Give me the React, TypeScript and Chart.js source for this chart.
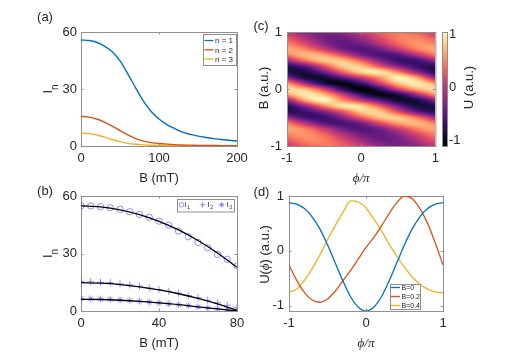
import React, { useEffect, useRef } from "react";
import { Chart, registerables } from "chart.js";
Chart.register(...registerables);

const SANS = '"Liberation Sans", Arial, Helvetica, sans-serif';
const SERIF = '"Liberation Serif", "DejaVu Serif", "Times New Roman", serif';
const TEXT = "#262626";
const AXIS = "#8f8f8f";
const BLUE = "#0072BD";
const RED = "#D95319";
const YEL = "#EDB120";
const MARK = "rgba(70,70,255,0.6)";

// ---------- (a) ----------
const A_B = [0, 10, 20, 30, 40, 50, 60, 70, 80, 90, 100, 110, 120, 130, 140, 150, 160, 170, 180, 190, 200];
const A_N1 = [55.8, 55.5, 54.6, 52.6, 49.6, 44.8, 38.0, 30.6, 23.6, 18.2, 14.2, 11.3, 9.2, 7.3, 6.1, 5.2, 4.5, 3.9, 3.4, 3.0, 2.6];
const A_N2 = [15.6, 15.2, 14.2, 12.6, 10.5, 8.1, 5.8, 3.9, 2.6, 1.8, 1.3, 1.0, 0.75, 0.55, 0.45, 0.35, 0.3, 0.25, 0.2, 0.2, 0.15];
const A_N3 = [6.8, 6.5, 5.8, 4.7, 3.4, 2.3, 1.4, 0.9, 0.6, 0.4, 0.3, 0.22, 0.16, 0.12, 0.1, 0.08, 0.06, 0.05, 0.05, 0.04, 0.04];
const A_LABELS = ["n = 1", "n = 2", "n = 3"];
const A_XTICKS = [0, 100, 200];
const A_YTICKS = [0, 30, 60];

// ---------- (b) ----------
const B_MEAS_B = [0, 5, 10, 15, 20, 25, 30, 35, 40, 45, 50, 55, 60, 65, 70, 75, 80];
const B_I1 = [54.9, 54.8, 54.4, 53.9, 53.0, 51.8, 50.4, 48.9, 46.9, 44.8, 41.7, 38.7, 35.8, 33.0, 29.5, 27.0, 23.5];
const B_I2 = [15.5, 15.3, 15.0, 14.8, 14.2, 13.6, 12.9, 12.0, 11.2, 10.3, 9.3, 8.0, 7.0, 5.6, 4.3, 3.0, 2.0];
const B_I3 = [6.5, 6.4, 6.3, 6.1, 5.8, 5.5, 5.1, 4.7, 4.3, 3.8, 3.3, 2.8, 2.2, 1.6, 1.1, 0.6, 0.3];
const B_FIT_B = [0, 10, 20, 30, 40, 50, 60, 70, 80];
const B_FIT1 = [54.8, 54.3, 52.8, 50.3, 46.8, 42.3, 36.8, 30.3, 22.8];
const B_FIT2 = [14.8, 14.5, 13.8, 12.6, 11.0, 9.0, 6.6, 3.7, 0.3];
const B_FIT3 = [6.1, 6.0, 5.6, 5.0, 4.2, 3.3, 2.2, 1.1, 0.0];
const B_LABELS = ["I_1", "I_2", "I_3"];
const B_XTICKS = [0, 40, 80];
const B_YTICKS = [0, 30, 60];

// ---------- (c) ----------
const C_PHI = [-1, -0.75, -0.5, -0.25, 0, 0.25, 0.5, 0.75, 1];
const C_B = [1, 0.9, 0.8, 0.7, 0.6, 0.5, 0.4, 0.3, 0.2, 0.1, 0, -0.1, -0.2, -0.3, -0.4, -0.5, -0.6, -0.7, -0.8, -0.9, -1];
const C_U = [
  [0.05, -0.23, -0.35, -0.23, 0.05, 0.33, 0.45, 0.33, 0.05],
  [0.26, -0.09, -0.36, -0.39, -0.16, 0.19, 0.46, 0.49, 0.26],
  [0.47, 0.13, -0.26, -0.46, -0.37, -0.03, 0.36, 0.56, 0.47],
  [0.65, 0.47, 0.05, -0.37, -0.55, -0.37, 0.05, 0.47, 0.65],
  [0.46, 0.73, 0.61, 0.17, -0.34, -0.61, -0.49, -0.05, 0.46],
  [-0.17, 0.42, 0.8, 0.76, 0.31, -0.28, -0.66, -0.62, -0.17],
  [-0.76, -0.44, 0.2, 0.8, 0.78, 0.25, -0.3, -0.66, -0.76],
  [-0.77, -0.83, -0.37, 0.33, 0.87, 0.93, 0.47, -0.23, -0.77],
  [-0.26, -0.84, -0.88, -0.46, 0.06, 0.56, 1.0, 0.64, -0.26],
  [0.57, -0.17, -0.83, -1.03, -0.65, 0.09, 0.75, 0.95, 0.57],
  [0.88, 0.7, 0.11, -0.7, -1.1, -0.7, 0.11, 0.7, 0.88],
  [0.57, 0.95, 0.75, 0.09, -0.65, -1.03, -0.83, -0.17, 0.57],
  [-0.26, 0.64, 1.0, 0.56, 0.06, -0.46, -0.88, -0.84, -0.26],
  [-0.77, -0.23, 0.47, 0.93, 0.87, 0.33, -0.37, -0.83, -0.77],
  [-0.76, -0.66, -0.3, 0.25, 0.78, 0.8, 0.2, -0.44, -0.76],
  [-0.17, -0.62, -0.66, -0.28, 0.31, 0.76, 0.8, 0.42, -0.17],
  [0.46, -0.05, -0.49, -0.61, -0.34, 0.17, 0.61, 0.73, 0.46],
  [0.65, 0.47, 0.05, -0.37, -0.55, -0.37, 0.05, 0.47, 0.65],
  [0.47, 0.56, 0.36, -0.03, -0.37, -0.46, -0.26, 0.13, 0.47],
  [0.26, 0.49, 0.46, 0.19, -0.16, -0.39, -0.36, -0.09, 0.26],
  [0.05, 0.33, 0.45, 0.33, 0.05, -0.23, -0.35, -0.23, 0.05],
];
const C_TICKS = [-1, 0, 1];
const CB_TICKS = [-1, 0, 1];
const U_MIN = -1.1;
const U_MAX = 1.05;
const MAGMA = [
  [0, 0, 4], [20, 14, 54], [59, 15, 112], [100, 26, 128], [140, 41, 129], [183, 55, 121],
  [222, 73, 104], [247, 112, 92], [254, 159, 109], [254, 207, 146], [252, 253, 191],
];

// ---------- (d) ----------
const D_PHI = [-1, -0.9, -0.8, -0.7, -0.6, -0.5, -0.4, -0.3, -0.2, -0.1, 0, 0.1, 0.2, 0.3, 0.4, 0.5, 0.6, 0.7, 0.8, 0.9, 1];
const D_B0 = [0.88, 0.85, 0.77, 0.62, 0.4, 0.11, -0.22, -0.55, -0.84, -1.03, -1.1, -1.03, -0.84, -0.55, -0.22, 0.11, 0.4, 0.62, 0.77, 0.85, 0.88];
const D_B02 = [-0.26, -0.54, -0.76, -0.9, -0.94, -0.88, -0.74, -0.55, -0.36, -0.15, 0.06, 0.24, 0.45, 0.68, 0.88, 1.0, 0.95, 0.77, 0.5, 0.14, -0.26];
const D_B04 = [-0.76, -0.7, -0.54, -0.33, -0.08, 0.2, 0.46, 0.7, 0.91, 0.89, 0.78, 0.58, 0.37, 0.12, -0.1, -0.3, -0.48, -0.61, -0.7, -0.75, -0.77];
const D_LABELS = ["B=0", "B=0.2", "B=0.4"];
const D_XTICKS = [-1, 0, 1];
const D_YTICKS = [-1, 0, 1];

// ---------- helpers ----------
const xy = (xs: number[], ys: number[]) => xs.map((x, i) => ({ x, y: ys[i] }));

function magma(t: number): number[] {
  const c = Math.max(0, Math.min(1, t)) * 10;
  const i = Math.min(9, Math.floor(c));
  const u = c - i;
  const a = MAGMA[i], b = MAGMA[i + 1];
  return [a[0] + (b[0] - a[0]) * u, a[1] + (b[1] - a[1]) * u, a[2] + (b[2] - a[2]) * u];
}

const NI = C_PHI.length - 1;
const NJ = C_B.length;
function gridVal(j: number, i: number) {
  const jj = Math.max(0, Math.min(NJ - 1, j));
  const ii = ((i % NI) + NI) % NI;
  return C_U[jj][ii];
}
function cr(p0: number, p1: number, p2: number, p3: number, t: number) {
  return p1 + 0.5 * t * (p2 - p0 + t * (2 * p0 - 5 * p1 + 4 * p2 - p3 + t * (3 * (p1 - p2) + p3 - p0)));
}
function sampleU(p: number, b: number) {
  const fi = (p - C_PHI[0]) / (C_PHI[1] - C_PHI[0]);
  const fj = (C_B[0] - b) / (C_B[0] - C_B[1]);
  const i0 = Math.floor(fi), j0 = Math.floor(fj);
  const tx = fi - i0, ty = fj - j0;
  const r: number[] = [];
  for (let m = -1; m <= 2; m++) {
    r.push(cr(gridVal(j0 + m, i0 - 1), gridVal(j0 + m, i0), gridVal(j0 + m, i0 + 1), gridVal(j0 + m, i0 + 2), tx));
  }
  return cr(r[0], r[1], r[2], r[3], ty);
}

type Frame = {
  yw: number; xh: number;
  pad: { left: number; right: number; top: number; bottom: number };
  xr: [number, number]; yr: [number, number];
  xt: number[]; yt: number[];
  xtitle?: string; xtitleFont?: any; ypad?: number; yPos?: string; xDisplay?: boolean;
};

function baseOptions(f: Frame): any {
  const tickFont = { family: SANS, size: 13 };
  return {
    responsive: false,
    animation: false,
    devicePixelRatio: 1,
    events: [],
    layout: { padding: f.pad },
    plugins: { legend: { display: false }, tooltip: { enabled: false }, title: { display: false } },
    scales: {
      x: {
        type: "linear", min: f.xr[0], max: f.xr[1], display: f.xDisplay !== false,
        afterBuildTicks: (s: any) => { s.ticks = f.xt.map((v) => ({ value: v })); },
        afterFit: (s: any) => { s.height = f.xh; },
        grid: { display: false, drawTicks: false }, border: { display: false },
        ticks: { autoSkip: false, maxRotation: 0, minRotation: 0, padding: 5, color: TEXT, font: tickFont, callback: (v: any) => String(v) },
        title: f.xtitle
          ? { display: true, text: f.xtitle, color: TEXT, font: f.xtitleFont || tickFont, padding: { top: 0, bottom: 0 } }
          : { display: false },
      },
      y: {
        type: "linear", position: f.yPos || "left", min: f.yr[0], max: f.yr[1],
        afterBuildTicks: (s: any) => { s.ticks = f.yt.map((v) => ({ value: v })); },
        afterFit: (s: any) => { s.width = f.yw; },
        grid: { display: false, drawTicks: false }, border: { display: false },
        ticks: { autoSkip: false, padding: f.ypad ?? 5, color: TEXT, font: tickFont, callback: (v: any) => String(v) },
        title: { display: false },
      },
    },
  };
}

function boxPlugin(hook: string, withTicks = true) {
  return {
    id: "mbox",
    [hook](chart: any) {
      const { ctx, chartArea: a, scales } = chart;
      ctx.save();
      ctx.strokeStyle = AXIS;
      ctx.lineWidth = 1;
      ctx.strokeRect(a.left + 0.5, a.top + 0.5, a.right - a.left, a.bottom - a.top);
      if (withTicks) {
        const tl = 2.5;
        ctx.beginPath();
        const sx = scales.x, sy = scales.y;
        if (sx && sx.options.display) {
          for (const t of sx.ticks) {
            const px = Math.round(sx.getPixelForValue(t.value)) + 0.5;
            if (px < a.left + 2 || px > a.right - 1) continue;
            ctx.moveTo(px, a.bottom); ctx.lineTo(px, a.bottom - tl);
            ctx.moveTo(px, a.top); ctx.lineTo(px, a.top + tl);
          }
        }
        if (sy && sy.options.display) {
          for (const t of sy.ticks) {
            const py = Math.round(sy.getPixelForValue(t.value)) + 0.5;
            if (py < a.top + 2 || py > a.bottom - 1) continue;
            ctx.moveTo(a.left, py); ctx.lineTo(a.left + tl, py);
            ctx.moveTo(a.right, py); ctx.lineTo(a.right - tl, py);
          }
        }
        ctx.stroke();
      }
      ctx.restore();
    },
  };
}

type Seg = { t: string; f: string; dy?: number };
function rotTitle(x: number, cy: number | null, segs: Seg[]) {
  return {
    id: "rotTitle",
    afterDraw(chart: any) {
      const ctx = chart.ctx;
      const a = chart.chartArea;
      const yc = cy ?? (a.top + a.bottom) / 2;
      ctx.save();
      ctx.fillStyle = TEXT;
      ctx.textBaseline = "alphabetic";
      ctx.textAlign = "left";
      let tot = 0;
      for (const s of segs) { ctx.font = s.f; tot += ctx.measureText(s.t).width; }
      ctx.translate(x, yc);
      ctx.rotate(-Math.PI / 2);
      let px = -tot / 2;
      for (const s of segs) {
        ctx.font = s.f;
        ctx.fillText(s.t, px, s.dy || 0);
        px += ctx.measureText(s.t).width;
      }
      ctx.restore();
    },
  };
}

function lineLegend(box: number[], rows: number[], lx0: number, lx1: number, tx: number, size: number) {
  return {
    id: "lineLegend",
    afterDatasetsDraw(chart: any) {
      const ctx = chart.ctx;
      ctx.save();
      ctx.fillStyle = "#ffffff";
      ctx.fillRect(box[0], box[1], box[2], box[3]);
      ctx.strokeStyle = AXIS;
      ctx.lineWidth = 1;
      ctx.strokeRect(box[0] + 0.5, box[1] + 0.5, box[2], box[3]);
      ctx.font = `${size}px ${SANS}`;
      ctx.textBaseline = "middle";
      ctx.textAlign = "left";
      chart.data.datasets.forEach((ds: any, k: number) => {
        const y = rows[k];
        ctx.strokeStyle = ds.borderColor;
        ctx.lineWidth = 1.3;
        ctx.beginPath();
        ctx.moveTo(lx0, y); ctx.lineTo(lx1, y);
        ctx.stroke();
        ctx.fillStyle = TEXT;
        ctx.fillText(ds.label, tx, y + 0.5);
      });
      ctx.restore();
    },
  };
}

function drawMarker(ctx: any, style: string, x: number, y: number, r: number) {
  ctx.beginPath();
  if (style === "circle") {
    ctx.arc(x, y, r, 0, Math.PI * 2);
  } else {
    ctx.moveTo(x - r, y); ctx.lineTo(x + r, y);
    ctx.moveTo(x, y - r); ctx.lineTo(x, y + r);
    if (style === "star") {
      const d = r * 0.707;
      ctx.moveTo(x - d, y - d); ctx.lineTo(x + d, y + d);
      ctx.moveTo(x - d, y + d); ctx.lineTo(x + d, y - d);
    }
  }
  ctx.stroke();
}

function markerLegend(box: number[], mx: number[], tx: number[], my: number, base: number) {
  return {
    id: "markerLegend",
    afterDatasetsDraw(chart: any) {
      const ctx = chart.ctx;
      ctx.save();
      ctx.fillStyle = "#ffffff";
      ctx.fillRect(box[0], box[1], box[2], box[3]);
      ctx.strokeStyle = AXIS;
      ctx.lineWidth = 1;
      ctx.strokeRect(box[0] + 0.5, box[1] + 0.5, box[2], box[3]);
      const marks = chart.data.datasets.filter((d: any) => d.showLine === false);
      marks.forEach((ds: any, k: number) => {
        ctx.strokeStyle = MARK;
        ctx.lineWidth = 1;
        drawMarker(ctx, ds.pointStyle, mx[k], my, ds.pointStyle === "circle" ? 2.3 : 2.8);
        const [main, sub] = String(ds.label).split("_");
        ctx.fillStyle = TEXT;
        ctx.textBaseline = "alphabetic";
        ctx.font = `7px ${SANS}`;
        ctx.fillText(main, tx[k], base);
        const w = ctx.measureText(main).width;
        ctx.font = `5px ${SANS}`;
        ctx.fillText(sub, tx[k] + w + 0.6, base + 1.8);
      });
      ctx.restore();
    },
  };
}

const heatPlugin = {
  id: "heat",
  beforeDatasetsDraw(chart: any) {
    const { ctx, chartArea: a, scales } = chart;
    const w = Math.round(a.right - a.left), h = Math.round(a.bottom - a.top);
    const off = document.createElement("canvas");
    off.width = w; off.height = h;
    const octx = off.getContext("2d")!;
    const img = octx.createImageData(w, h);
    for (let j = 0; j < h; j++) {
      const b = scales.y.getValueForPixel(a.top + j + 0.5);
      for (let i = 0; i < w; i++) {
        const p = scales.x.getValueForPixel(a.left + i + 0.5);
        const v = sampleU(p, b);
        const c = magma((v - U_MIN) / (U_MAX - U_MIN));
        const k = (j * w + i) * 4;
        img.data[k] = c[0]; img.data[k + 1] = c[1]; img.data[k + 2] = c[2]; img.data[k + 3] = 255;
      }
    }
    octx.putImageData(img, 0, 0);
    ctx.drawImage(off, a.left, a.top);
  },
};

const colorbarPlugin = {
  id: "cbar",
  beforeDatasetsDraw(chart: any) {
    const { ctx, chartArea: a, scales } = chart;
    ctx.save();
    for (let py = Math.floor(a.top); py < a.bottom; py++) {
      const v = scales.y.getValueForPixel(py + 0.5);
      const c = magma((v - U_MIN) / (U_MAX - U_MIN));
      ctx.fillStyle = `rgb(${c[0] | 0},${c[1] | 0},${c[2] | 0})`;
      ctx.fillRect(a.left, py, a.right - a.left, 1);
    }
    ctx.restore();
  },
};

const labStyle = (cx: number, cy: number): any => ({
  position: "absolute", left: cx - 20, top: cy - 9, width: 40, height: 16, lineHeight: "16px",
  textAlign: "center", font: `13px ${SANS}`, color: TEXT, whiteSpace: "nowrap",
});
const cv = (l: number, t: number, w: number, h: number): any => ({ position: "absolute", left: l, top: t, width: w, height: h });

export default function App() {
  const ra = useRef<HTMLCanvasElement>(null);
  const rb = useRef<HTMLCanvasElement>(null);
  const rc = useRef<HTMLCanvasElement>(null);
  const rcb = useRef<HTMLCanvasElement>(null);
  const rd = useRef<HTMLCanvasElement>(null);

  useEffect(() => {
    Chart.defaults.font.family = SANS;
    const charts: any[] = [];
    const lineDs = (label: string, xs: number[], ys: number[], color: string, width = 1.4) => ({
      label, data: xy(xs, ys), borderColor: color, backgroundColor: color, borderWidth: width,
      pointRadius: 0, cubicInterpolationMode: "monotone", fill: false,
    });
    const serifIt = { family: SERIF, size: 13, style: "italic" };

    // (a)
    const fa: Frame = { yw: 81, xh: 40, pad: { left: 0, right: 17, top: 32, bottom: 4 }, xr: [0, 200], yr: [0, 60], xt: A_XTICKS, yt: A_YTICKS, xtitle: "B (mT)", ypad: 4 };
    charts.push(new Chart(ra.current!, {
      type: "line",
      data: { datasets: [lineDs(A_LABELS[0], A_B, A_N1, BLUE), lineDs(A_LABELS[1], A_B, A_N2, RED), lineDs(A_LABELS[2], A_B, A_N3, YEL)] } as any,
      options: baseOptions(fa),
      plugins: [
        boxPlugin("beforeDatasetsDraw"),
        lineLegend([203, 34, 33, 31], [40.5, 49.8, 59], 204.5, 213.5, 215, 8),
        rotTitle(51.5, null, [{ t: "I", f: `13px ${SANS}` }, { t: "n", f: `10px ${SANS}`, dy: 6 }]),
      ] as any,
    }));

    // (b)
    const fb: Frame = { yw: 81, xh: 40, pad: { left: 0, right: 17, top: 16, bottom: 9 }, xr: [0, 80], yr: [0, 60], xt: B_XTICKS, yt: B_YTICKS, xtitle: "B (mT)", ypad: 4 };
    const markDs = (label: string, ys: number[], style: string, r: number) => ({
      label, data: xy(B_MEAS_B, ys), showLine: false, pointStyle: style, pointRadius: r,
      pointBorderColor: MARK, pointBackgroundColor: "rgba(0,0,0,0)", pointBorderWidth: 1, borderColor: MARK,
    });
    charts.push(new Chart(rb.current!, {
      type: "line",
      data: {
        datasets: [
          lineDs("fit1", B_FIT_B, B_FIT1, "#000000", 1.3),
          lineDs("fit2", B_FIT_B, B_FIT2, "#000000", 1.3),
          lineDs("fit3", B_FIT_B, B_FIT3, "#000000", 1.3),
          markDs(B_LABELS[0], B_I1, "circle", 3.2),
          markDs(B_LABELS[1], B_I2, "cross", 3.6),
          markDs(B_LABELS[2], B_I3, "star", 3.3),
        ],
      } as any,
      options: baseOptions(fb),
      plugins: [
        boxPlugin("beforeDatasetsDraw"),
        markerLegend([177, 19, 57, 12.5], [181.5, 202.5, 221.7], [184.6, 207.6, 226.6], 24.8, 27.2),
        rotTitle(51.5, null, [{ t: "I", f: `13px ${SANS}` }, { t: "n", f: `10px ${SANS}`, dy: 6 }]),
      ] as any,
    }));

    // (c)
    const fc: Frame = { yw: 37, xh: 40, pad: { left: 0, right: 8, top: 32, bottom: 4 }, xr: [-1, 1], yr: [-1, 1], xt: C_TICKS, yt: C_TICKS, xtitle: "\u03D5/\u03C0", xtitleFont: serifIt, ypad: 5 };
    charts.push(new Chart(rc.current!, {
      type: "scatter",
      data: { datasets: [] },
      options: baseOptions(fc),
      plugins: [heatPlugin, boxPlugin("afterDraw"), rotTitle(18, 88, [{ t: "B (a.u.)", f: `13px ${SANS}` }])] as any,
    }));

    // colorbar
    const fcb: Frame = { yw: 61, xh: 0, pad: { left: 6, right: 0, top: 32, bottom: 44 }, xr: [0, 1], yr: [U_MIN, U_MAX], xt: [], yt: CB_TICKS, yPos: "right", xDisplay: false, ypad: 2 };
    charts.push(new Chart(rcb.current!, {
      type: "scatter",
      data: { datasets: [] },
      options: baseOptions(fcb),
      plugins: [colorbarPlugin, boxPlugin("afterDraw", false), rotTitle(37.3, 87.5, [{ t: "U (a.u.)", f: `13px ${SANS}` }])] as any,
    }));

    // (d)
    const fd: Frame = { yw: 35, xh: 40, pad: { left: 0, right: 65, top: 16, bottom: 9 }, xr: [-1, 1], yr: [-1.1, 1.0], xt: D_XTICKS, yt: D_YTICKS, xtitle: "\u03D5/\u03C0", xtitleFont: serifIt, ypad: 5 };
    charts.push(new Chart(rd.current!, {
      type: "line",
      data: { datasets: [lineDs(D_LABELS[0], D_PHI, D_B0, BLUE, 1.3), lineDs(D_LABELS[1], D_PHI, D_B02, RED, 1.3), lineDs(D_LABELS[2], D_PHI, D_B04, YEL, 1.3)] } as any,
      options: baseOptions(fd),
      plugins: [
        boxPlugin("beforeDatasetsDraw"),
        lineLegend([136, 104, 30, 25], [107.5, 116.5, 125.5], 137, 146, 147.5, 7),
        rotTitle(15, 74.5, [
          { t: "U(", f: `13px ${SANS}` },
          { t: "\u03D5", f: `italic 13px ${SERIF}` },
          { t: ") (a.u.)", f: `13px ${SANS}` },
        ]),
      ] as any,
    }));

    return () => charts.forEach((c) => c.destroy());
  }, []);

  return (
    <div style={{ position: "absolute", left: 0, top: 0, width: 508, height: 360, background: "#ffffff", overflow: "hidden" }}>
      <canvas ref={ra} width={254} height={190} style={cv(0, 0, 254, 190)} />
      <canvas ref={rb} width={254} height={180} style={cv(0, 180, 254, 180)} />
      <canvas ref={rc} width={194} height={190} style={cv(250, 0, 194, 190)} />
      <canvas ref={rcb} width={72} height={190} style={cv(436, 0, 72, 190)} />
      <canvas ref={rd} width={254} height={180} style={cv(254, 180, 254, 180)} />
      <div style={labStyle(45, 18)}>(a)</div>
      <div style={labStyle(45, 192)}>(b)</div>
      <div style={labStyle(261, 26.5)}>(c)</div>
      <div style={labStyle(261.5, 192.5)}>(d)</div>
    </div>
  );
}
